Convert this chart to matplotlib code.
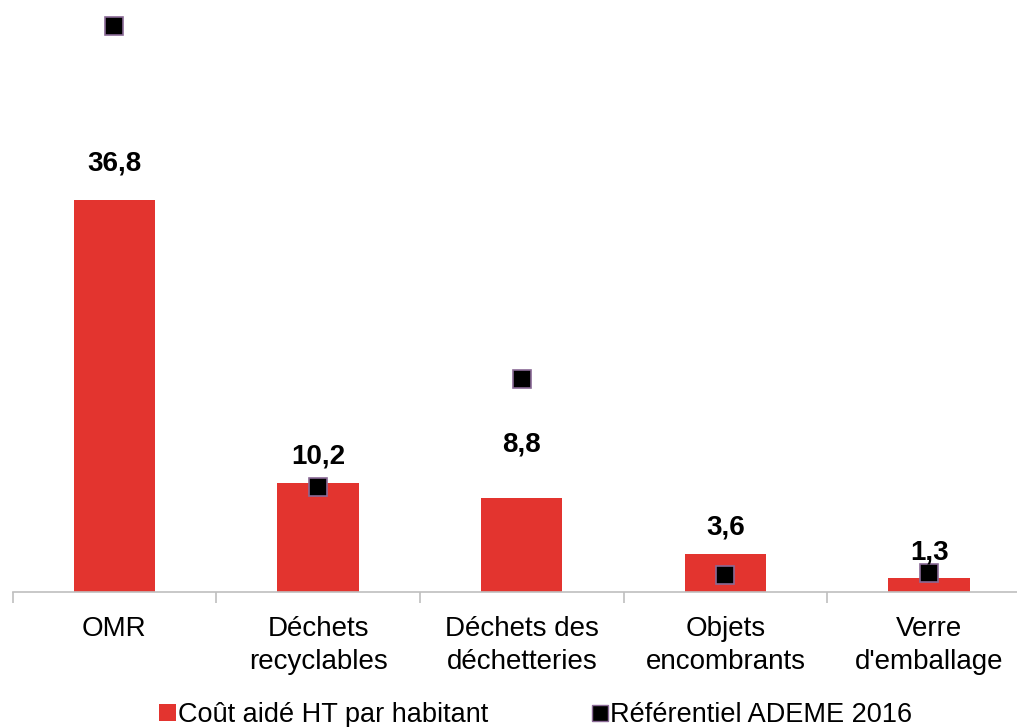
import numpy as np
import matplotlib.pyplot as plt
from matplotlib.lines import Line2D
from matplotlib.patches import Patch

plt.rcParams['font.family'] = ['Liberation Sans', 'DejaVu Sans']

categories = ["OMR", "Déchets\nrecyclables", "Déchets des\ndéchetteries", "Objets\nencombrants", "Verre\nd'emballage"]
cout = [36.8, 10.2, 8.8, 3.6, 1.3]
ademe = [53.1, 9.9, 20.0, 1.6, 1.8]
labels = ["36,8", "10,2", "8,8", "3,6", "1,3"]
label_offsets = [37, 27, 54, 26, 26]  # pixels above bar top

fig = plt.figure(figsize=(10.17, 7.27), dpi=100)
ax = fig.add_axes([12.5 / 1017, 135 / 727, 1018.5 / 1017, 585.75 / 727])

x = np.arange(len(categories))
ax.bar(x, cout, width=0.4, color='#e3342f', zorder=2)
ax.plot(x, ademe, linestyle='none', marker='s', markersize=13,
        markerfacecolor='black', markeredgecolor='#8a6a96', markeredgewidth=1.2, zorder=3)

for xi, v, lab, off in zip(x, cout, labels, label_offsets):
    ax.annotate(lab, (xi, v), xytext=(0, off * 0.72), textcoords='offset points',
                ha='center', va='center', fontsize=20, fontweight='bold', zorder=4)

ax.set_xlim(-0.5, len(categories) - 0.5)
ax.set_ylim(0, 55)
ax.set_xticks(x)
ax.set_xticklabels(categories, fontsize=20, linespacing=1.35)
ax.tick_params(axis='x', which='major', length=0, pad=17)
ax.set_xticks(np.arange(len(categories) + 1) - 0.5, minor=True)
ax.tick_params(axis='x', which='minor', length=8, color='#bfbfbf', width=1.2)
ax.set_yticks([])
for s in ['top', 'right', 'left']:
    ax.spines[s].set_visible(False)
ax.spines['bottom'].set_color('#bfbfbf')
ax.spines['bottom'].set_linewidth(1.2)

handles = [Patch(facecolor='#e3342f', edgecolor='none'),
           Line2D([], [], linestyle='none', marker='s', markersize=12,
                  markerfacecolor='black', markeredgecolor='#8a6a96')]
fig.legend(handles, ["Coût aidé HT par habitant", "Référentiel ADEME 2016"],
           loc='center', bbox_to_anchor=(0.527, 12 / 727), ncol=2, frameon=False,
           fontsize=19.5, handlelength=0.6, handleheight=0.6, handletextpad=0.1,
           columnspacing=3.8)

fig.savefig("out.png", dpi=100)
